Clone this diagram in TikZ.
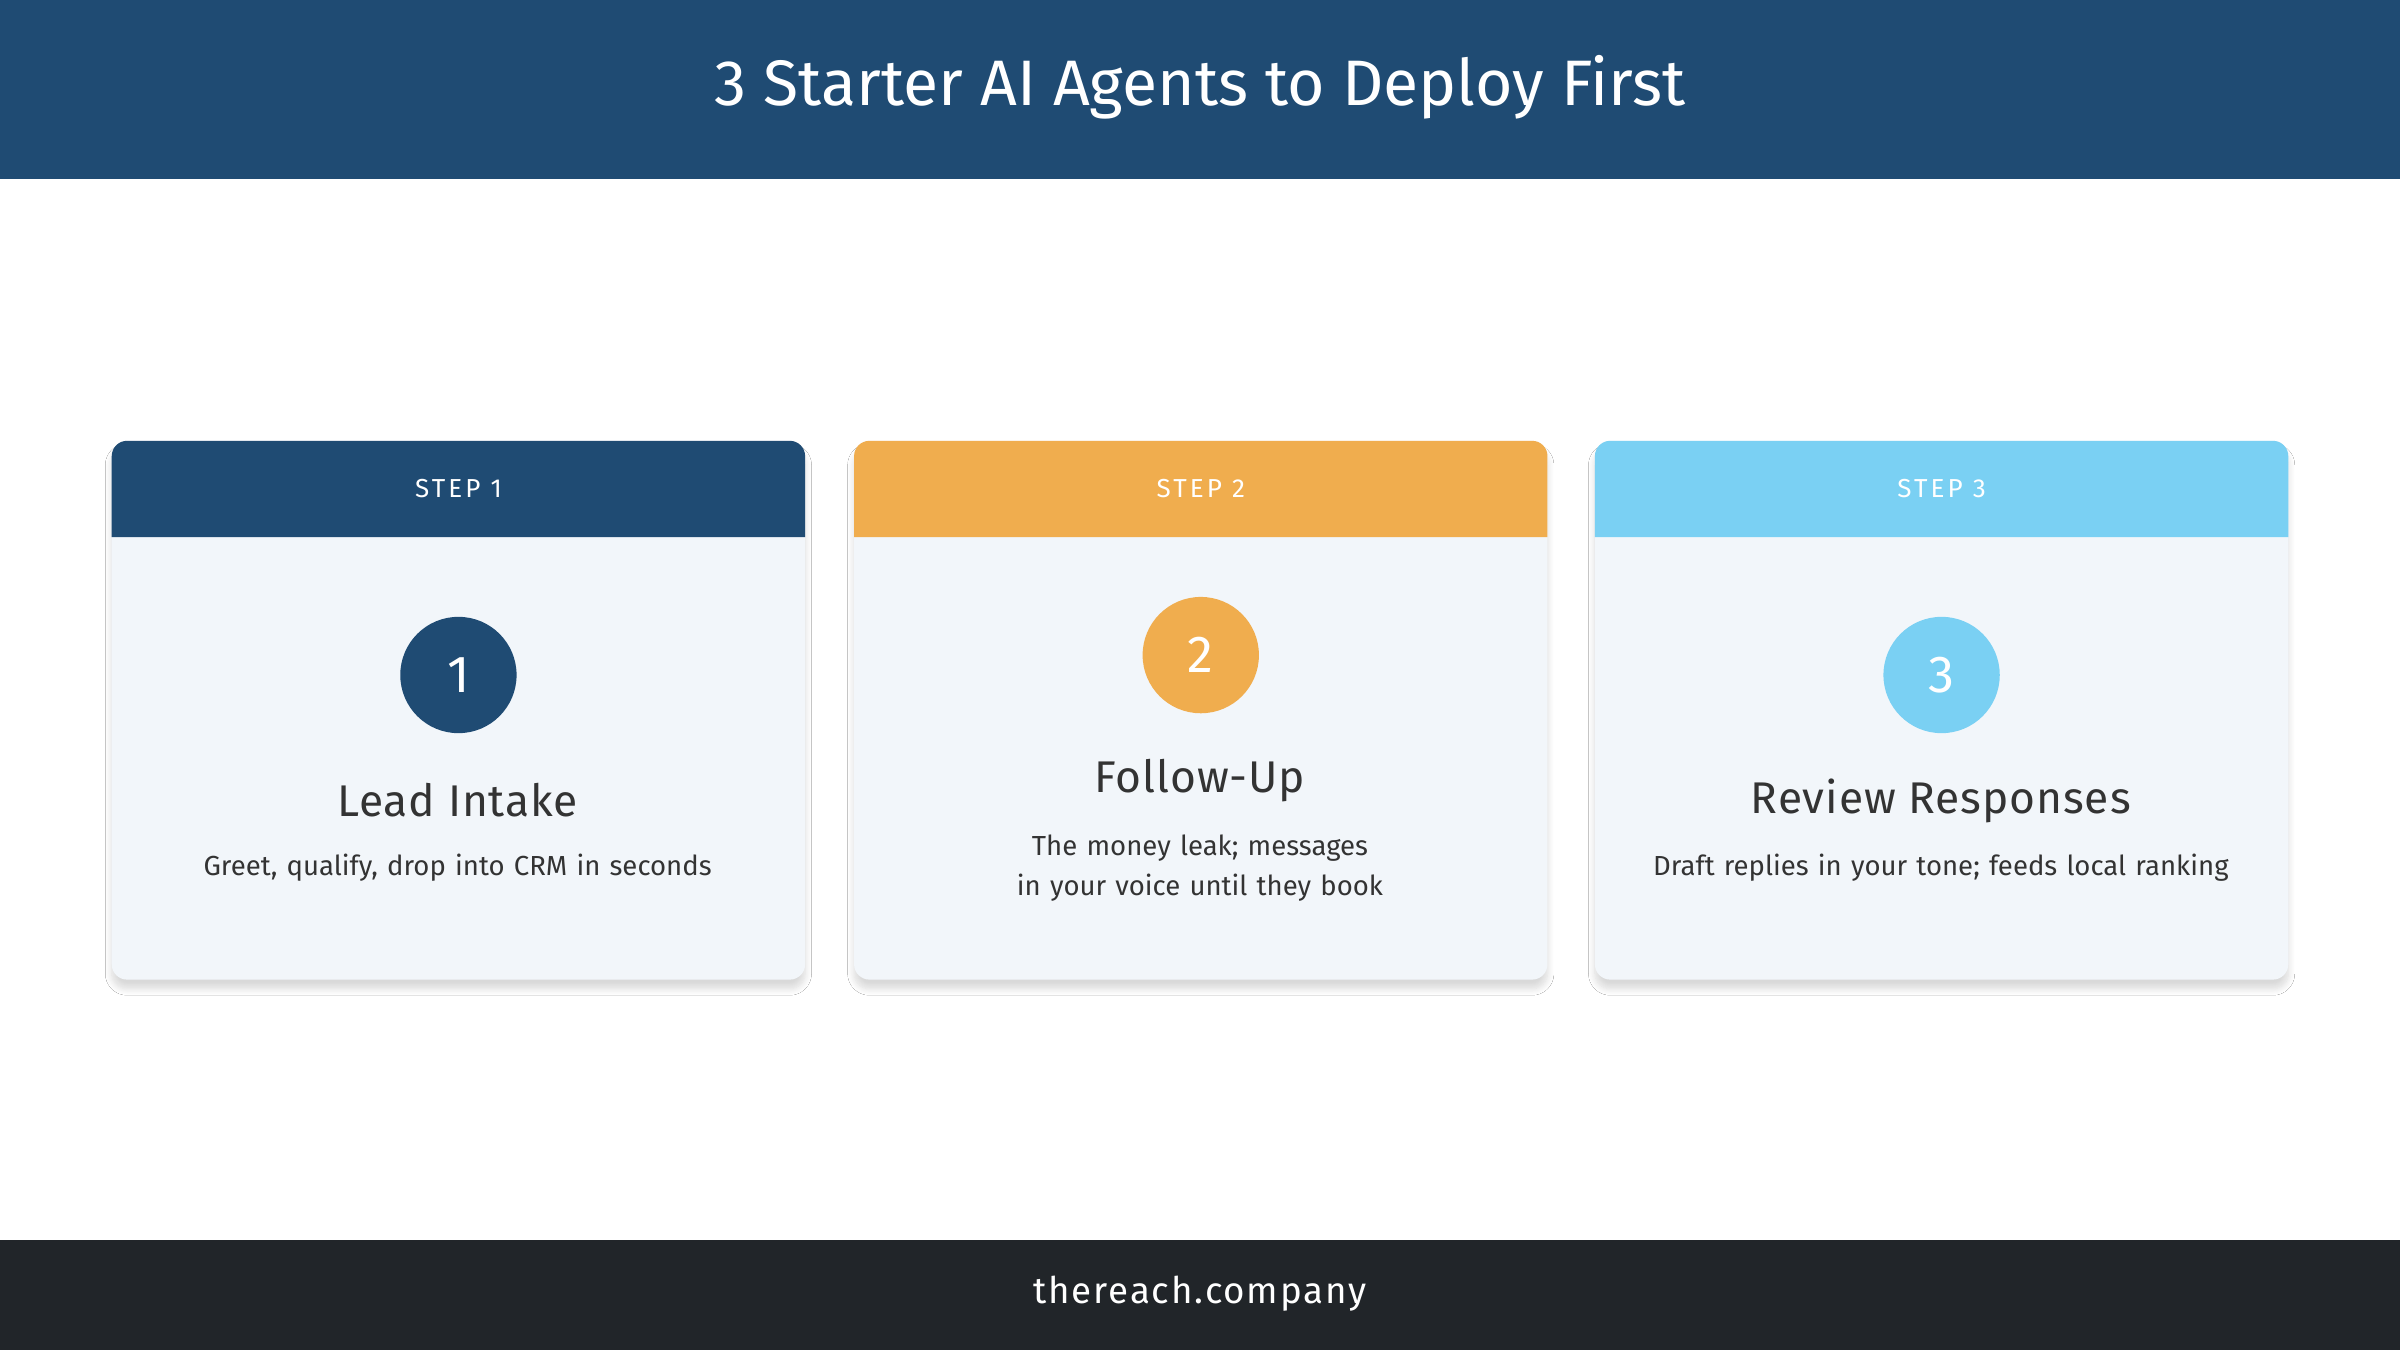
\documentclass[tikz,border=0pt]{standalone}
\usepackage{fontspec}
\setmainfont{Fira Sans}
\usetikzlibrary{shadows.blur}
\definecolor{navy}{HTML}{1F4B73}
\definecolor{orng}{HTML}{F0AD4E}
\definecolor{sky}{HTML}{7AD0F3}
\definecolor{cardbg}{HTML}{F2F6FA}
\definecolor{foot}{HTML}{212529}
\definecolor{txt}{HTML}{333333}
\begin{document}
\begin{tikzpicture}[x=0.5pt,y=-0.5pt,
  card/.style={fill=cardbg,rounded corners=5pt,blur shadow={shadow blur steps=8,shadow xshift=0pt,shadow yshift=-3pt,shadow opacity=15}},
  num/.style={circle,minimum size=38pt,inner sep=0pt,text=white,font=\fontsize{17}{20}\selectfont},
  steplbl/.style={text=white,font=\fontsize{8.5}{10}\selectfont\addfontfeature{LetterSpace=12}},
  ttl/.style={text=txt,font=\fontsize{14.5}{17}\selectfont\addfontfeature{LetterSpace=2}},
  desc/.style={text=txt,font=\fontsize{9}{13}\selectfont,align=center,text width=200pt}]
\useasboundingbox (0,0) rectangle (1568,882);
\fill[white] (0,0) rectangle (1568,882);
\fill[navy] (0,0) rectangle (1568,117);
\node[text=white,font=\fontsize{21}{25}\selectfont] (title) at (784,57) {3 Starter AI Agents to Deploy First};
\fill[foot] (0,810) rectangle (1568,882);
\node[text=white,font=\fontsize{12}{14}\selectfont\addfontfeature{LetterSpace=5}] (footer) at (784,845) {thereach.company};
\foreach \x/\c/\n/\cy in {73/navy/1/441,558/orng/2/428,1042/sky/3/441}{
  \path[card] (\x,288) rectangle ++(453,352);
  \fill[\c,rounded corners=5pt] (\x,351) -- (\x,288) -- (\x+453,288) -- (\x+453,351);
  \fill[\c] (\x,330) rectangle (\x+453,351);
  \node[steplbl] (s\n) at (\x+226.5,319) {STEP \n};
  \node[num,fill=\c] (c\n) at (\x+226.5,\cy) {\n};
}
\node[ttl] (t1) at (299,523) {Lead Intake};
\node[desc] (d1) at (299,567) {Greet, qualify, drop into CRM in seconds};
\node[ttl] (t2) at (784,510) {Follow-Up};
\node[desc] (d2) at (784,567) {The money leak; messages in your voice until they book};
\node[ttl] (t3) at (1268,523) {Review Responses};
\node[desc,text width=220pt] (d3) at (1268,567) {Draft replies in your tone; feeds local ranking};
\end{tikzpicture}
\end{document}
